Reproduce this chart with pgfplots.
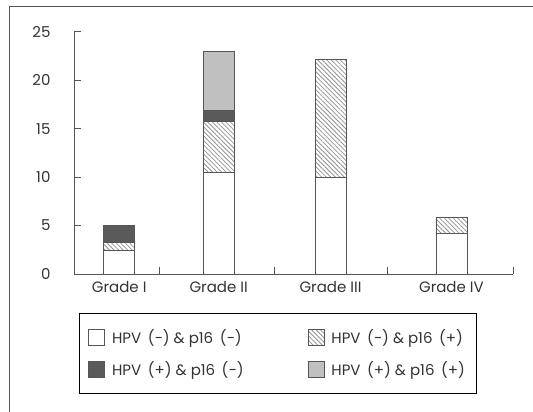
\documentclass[border=0pt]{standalone}
\usepackage{fontspec}
\setmainfont{Poppins}
\usepackage{pgfplots}
\pgfplotsset{compat=1.18}
\usetikzlibrary{patterns.meta}
\definecolor{axc}{HTML}{555555}
\definecolor{txt}{HTML}{333333}
\definecolor{darkf}{HTML}{5A5A5A}
\definecolor{lightf}{HTML}{C0C0C0}
\begin{document}
\begin{tikzpicture}[x=1pt,y=1pt]
\useasboundingbox (0,0) rectangle (533,412);
\draw[axc, line width=0.8pt] (9,0) -- (9,406) -- (533,406);
\begin{axis}[at={(74pt,138pt)}, anchor=south west, scale only axis,
  width=439pt, height=242.3pt,
  xmin=0, xmax=3.885, ymin=0, ymax=25,
  ybar stacked, bar width=0.274,
  axis lines*=left,
  axis line style={axc, line width=0.8pt},
  every tick/.style={axc, line width=0.8pt},
  tick align=inside,
  major tick length=7pt,
  ytick={0,5,10,15,20,25},
  xtick={0.76,1.77,2.77,3.885},
  xticklabels={},
  extra x ticks={0.40,1.28,2.27,3.34},
  extra x tick labels={Grade I,Grade II,Grade III,Grade IV},
  extra x tick style={major tick length=0pt},
  x tick label style={yshift=-4pt},
  yticklabel style={xshift=-20pt},
  /pgf/number format/assume math mode=true,
  tick label style={font=\fontsize{15}{17}\selectfont, text=txt},
  legend columns=2,
  legend cell align=left,
  legend image code/.code={\draw[#1] (0pt,-8pt) rectangle (16pt,8pt);},
  legend style={at={(axis description cs:0.0114,-0.163)}, anchor=north west,
    draw=black, line width=0.6pt, font=\fontsize{15}{17}\selectfont, text=txt,
    inner xsep=9pt, inner ysep=14pt, row sep=12pt,
    /tikz/every odd column/.append style={column sep=5pt},
    /tikz/every even column/.append style={column sep=62pt}},
]
\addplot[draw=axc, line width=0.8pt, fill=white]
  coordinates {(0.40,2.4) (1.28,10.5) (2.27,10.0) (3.34,4.15)};
\addlegendentry{HPV\, (−) \& p16\, (−)}
\addplot[draw=axc, line width=0.8pt, pattern={Lines[angle=-45,distance=3.2pt,line width=0.8pt]}, pattern color=gray!85]
  coordinates {(0.40,0.85) (1.28,5.25) (2.27,12.1) (3.34,1.7)};
\addlegendentry{HPV\, (−) \& p16\, (+)\hspace{54pt}}
\addplot[draw=axc, line width=0.8pt, fill=darkf]
  coordinates {(0.40,1.8) (1.28,1.1) (2.27,0) (3.34,0)};
\addlegendentry{HPV\, (+) \& p16\, (−)}
\addplot[draw=axc, line width=0.8pt, fill=lightf]
  coordinates {(0.40,0) (1.28,6.15) (2.27,0) (3.34,0)};
\addlegendentry{HPV\, (+) \& p16\, (+)\hspace{54pt}}
\end{axis}
\end{tikzpicture}
\end{document}
